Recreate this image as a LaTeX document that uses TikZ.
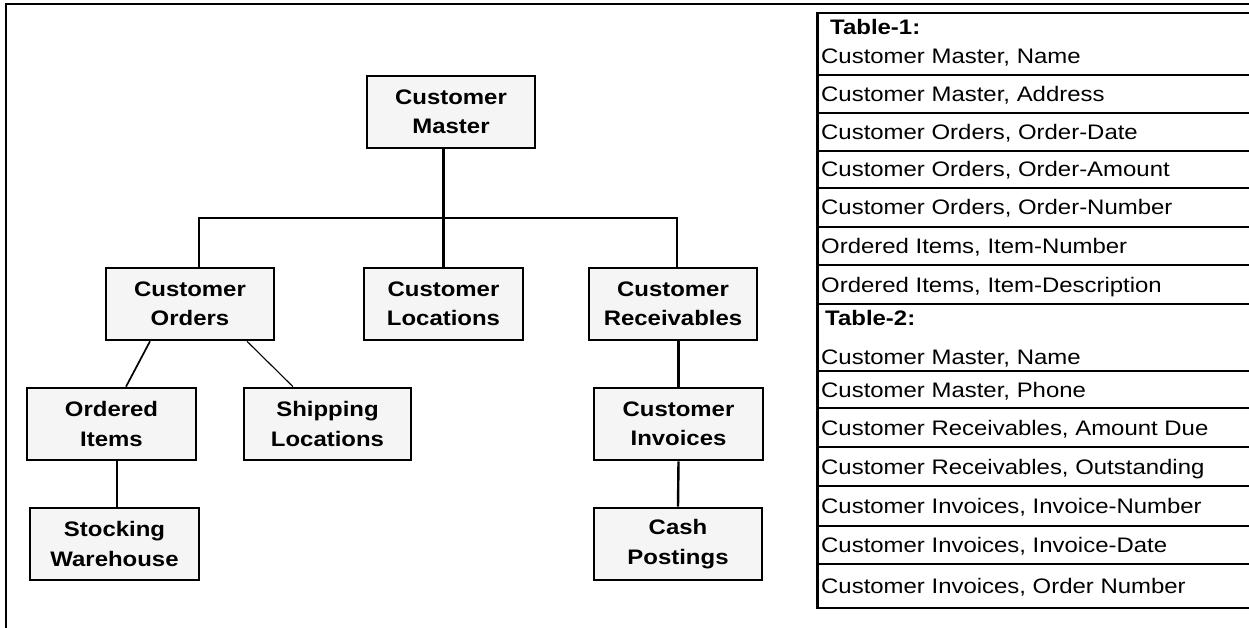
\documentclass[tikz,border=0pt]{standalone}
\usepackage{fontspec}
\setmainfont[FakeStretch=1.14]{Liberation Sans}
\usetikzlibrary{positioning}

\begin{document}
\begin{tikzpicture}[x=1pt, y=-1pt,
  entity/.style={draw, line width=2.6pt, fill=black!4, minimum width=168pt, minimum height=72pt,
    inner sep=0pt, align=center, font=\fontsize{21}{29.5}\selectfont\bfseries},
  link/.style={line width=2.4pt},
  rule/.style={line width=2.6pt},
  rowtext/.style={anchor=west, inner sep=0pt, text height=15pt, text depth=0pt, font=\fontsize{21}{29.5}\selectfont},
  headtext/.style={rowtext, font=\fontsize{21}{29.5}\selectfont\bfseries}
]
\useasboundingbox (0,0) rectangle (1249,628);
\fill[white] (0,0) rectangle (1249,628);

% frame
\draw[line width=2.8pt] (1249,4) -- (6,4) -- (6,628);

% hierarchy
\node[entity] (master) at (451,112) {Customer\\ Master};
\node[entity] (orders) at (190,304) {Customer\\ Orders};
\node[entity, minimum width=159pt] (locations) at (443.5,304) {Customer\\ Locations};
\node[entity] (receivables) at (673,304) {Customer\\ Receivables};
\node[entity, minimum width=169pt] (items) at (111.5,424) {Ordered\\ Items};
\node[entity, minimum width=167pt] (shipping) at (327.5,424) {Shipping\\ Locations};
\node[entity, minimum width=169pt] (invoices) at (678.5,424) {Customer\\ Invoices};
\node[entity, minimum width=169pt] (stocking) at (114.5,544) {Stocking\\ Warehouse};
\node[entity] (cash) at (678,544) {Cash\\ Postings};

\coordinate (busL) at (199,218);
\coordinate (busR) at (677,218);

\draw[link] (master.south -| locations) -- (locations.north);
\draw[link] (busL |- orders.north) -- (busL) -- (busR) -- (busR |- receivables.north);
\draw[line width=1.7pt] ([xshift=-40pt]orders.south) -- ([xshift=14.5pt]items.north);
\draw[line width=1.1pt] ([xshift=57pt]orders.south) -- ([xshift=-34.5pt]shipping.north);
\draw[link] ([xshift=5.5pt]items.south) -- ([xshift=5.5pt]items.south |- stocking.north);
\draw[link] (invoices.north |- receivables.south) -- (invoices.north);
\draw[link] (invoices.south) -- (cash.north);

% field table
\draw[rule] (1249,13) -- (817.5,13) -- (817.5,608) -- (1249,608);
\foreach \y in {75,113,151,188,227,265,304,371,408,447,486,526,564}
  \draw[rule] (816,\y) -- (1249,\y);

\node[headtext] (head1) at (830,27) {Table-1:};
\node[rowtext] (first1) at (821,56.5) {Customer Master, Name};
\foreach \yc/\txt [count=\i] in {94/{Customer Master, Address},
    132/{Customer Orders, Order-Date},
    169.5/{Customer Orders, Order-Amount},
    207.5/{Customer Orders, Order-Number},
    246/{Ordered Items, Item-Number},
    284.5/{Ordered Items, Item-Description}}
  \node[rowtext] (fieldA\i) at (821,\yc) {\txt};

\node[headtext] (head2) at (825,318) {Table-2:};
\node[rowtext] (first2) at (821,356.5) {Customer Master, Name};
\foreach \yc/\txt [count=\i] in {389.5/{Customer Master, Phone},
    427.5/{Customer Receivables, Amount Due},
    466.5/{Customer Receivables, Outstanding},
    506/{Customer Invoices, Invoice-Number},
    545/{Customer Invoices, Invoice-Date},
    586/{Customer Invoices, Order Number}}
  \node[rowtext] (fieldB\i) at (821,\yc) {\txt};
\end{tikzpicture}
\end{document}
